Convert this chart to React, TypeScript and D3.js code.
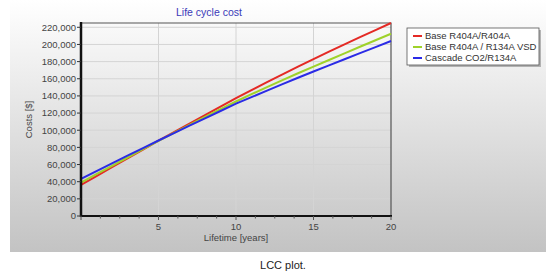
import React, { useEffect, useRef } from 'react';
import * as d3 from 'd3';

const years = d3.range(0, 21);
const seriesNames = ['Base R404A/R404A', 'Base R404A / R134A VSD', 'Cascade CO2/R134A'];
const seriesColors = ['#e42a25', '#9fd22a', '#2b2be6'];
const baseR404A = [36300, 46600, 56900, 67200, 77500, 87800, 97800, 107800, 117700, 127600, 137500, 146800, 156000, 165100, 174100, 183000, 191600, 200100, 208500, 216800, 225000];
const baseVSD = [39000, 48800, 58500, 68200, 77900, 87500, 96900, 106200, 115400, 124500, 133500, 142000, 150300, 158500, 166400, 174200, 181900, 189600, 197300, 204900, 212500];
const cascade = [43300, 52300, 61300, 70300, 79200, 88000, 96700, 105300, 113800, 122400, 131000, 138600, 146200, 153800, 161200, 168500, 175600, 182700, 189800, 196900, 204000];
const yTicks = d3.range(0, 220001, 20000);
const xTicks = [5, 10, 15, 20];

export default function App() {
  const svgRef = useRef<SVGSVGElement>(null);

  useEffect(() => {
    if (!svgRef.current) return;
    const svg = d3.select(svgRef.current);
    svg.selectAll('*').remove();

    const width = 546;
    const height = 273;
    const plot = { left: 81, right: 391, top: 23, bottom: 216 };

    svg.attr('width', width).attr('height', height);

    // background gradient panel
    const defs = svg.append('defs');
    const grad = defs.append('linearGradient').attr('id', 'bg').attr('x1', 0).attr('y1', 0).attr('x2', 0).attr('y2', 1);
    grad.append('stop').attr('offset', '0%').attr('stop-color', '#ffffff');
    grad.append('stop').attr('offset', '100%').attr('stop-color', '#c3c3c3');

    svg.append('rect').attr('width', width).attr('height', height).attr('fill', '#fff');
    svg.append('rect')
      .attr('x', 10).attr('y', 0).attr('width', width - 10).attr('height', 252)
      .attr('fill', 'url(#bg)');

    const x = d3.scaleLinear().domain([0, 20]).range([plot.left, plot.right]);
    const y = d3.scaleLinear().domain([0, 225000]).range([plot.bottom, plot.top]);

    const font = 'Liberation Sans, Arial, sans-serif';
    const fs = '9.5px';

    // grid
    const grid = svg.append('g');
    grid.selectAll('.hg').data(yTicks.filter(t => t > 0)).enter().append('line')
      .attr('x1', plot.left).attr('x2', plot.right)
      .attr('y1', d => y(d)).attr('y2', d => y(d))
      .attr('stroke', '#d4d4d4').attr('stroke-width', 1);
    grid.selectAll('.vg').data([5, 10, 15]).enter().append('line')
      .attr('x1', d => x(d)).attr('x2', d => x(d))
      .attr('y1', plot.top).attr('y2', plot.bottom)
      .attr('stroke', '#d4d4d4').attr('stroke-width', 1);

    // top/right border
    svg.append('path')
      .attr('d', `M${plot.left},${plot.top}H${plot.right}V${plot.bottom}`)
      .attr('fill', 'none').attr('stroke', '#555').attr('stroke-width', 1.2);

    // lines
    const line = d3.line<number>()
      .x((_, i) => x(years[i]))
      .y(d => y(d));
    [baseR404A, baseVSD, cascade].forEach((s, i) => {
      svg.append('path')
        .attr('d', line(s))
        .attr('fill', 'none')
        .attr('stroke', seriesColors[i])
        .attr('stroke-width', 2);
    });

    // axes
    svg.append('line')
      .attr('x1', plot.left).attr('x2', plot.left)
      .attr('y1', plot.top - 1).attr('y2', plot.bottom + 1)
      .attr('stroke', '#111').attr('stroke-width', 2.5);
    svg.append('line')
      .attr('x1', plot.left).attr('x2', plot.right + 1)
      .attr('y1', plot.bottom).attr('y2', plot.bottom)
      .attr('stroke', '#111').attr('stroke-width', 1.8);

    // y ticks
    const yAxis = svg.append('g');
    yAxis.selectAll('line').data(yTicks).enter().append('line')
      .attr('x1', plot.left - 4).attr('x2', plot.left)
      .attr('y1', d => y(d)).attr('y2', d => y(d))
      .attr('stroke', '#333');
    yAxis.selectAll('text').data(yTicks).enter().append('text')
      .attr('x', plot.left - 5).attr('y', d => y(d) + 3.3)
      .attr('text-anchor', 'end')
      .style('font-family', font).style('font-size', fs).attr('fill', '#444')
      .text(d => d3.format(',')(d));

    // x ticks (minor every 1.25 years)
    const minor = d3.range(0, 20.01, 1.25);
    svg.selectAll('.xm').data(minor).enter().append('line')
      .attr('x1', d => x(d)).attr('x2', d => x(d))
      .attr('y1', plot.bottom).attr('y2', d => plot.bottom + (d % 5 === 0 ? 4 : 2.5))
      .attr('stroke', '#555');
    svg.selectAll('.xl').data(xTicks).enter().append('text')
      .attr('x', d => x(d)).attr('y', plot.bottom + 14)
      .attr('text-anchor', 'middle')
      .style('font-family', font).style('font-size', fs).attr('fill', '#444')
      .text(d => d);

    // titles
    svg.append('text')
      .attr('x', 209).attr('y', 16)
      .attr('text-anchor', 'middle')
      .style('font-family', font).style('font-size', '10.5px').attr('fill', '#3a3ab8')
      .text('Life cycle cost');
    svg.append('text')
      .attr('x', 236).attr('y', 241)
      .attr('text-anchor', 'middle')
      .style('font-family', font).style('font-size', fs).attr('fill', '#444')
      .text('Lifetime [years]');
    svg.append('text')
      .attr('transform', `translate(32,${(plot.top + plot.bottom) / 2}) rotate(-90)`)
      .attr('text-anchor', 'middle')
      .style('font-family', font).style('font-size', fs).attr('fill', '#444')
      .text('Costs [$]');

    // legend
    const lg = svg.append('g').attr('transform', 'translate(407,28)');
    lg.append('rect').attr('x', 2).attr('y', 2).attr('width', 132).attr('height', 37).attr('fill', '#888').attr('opacity', 0.6);
    lg.append('rect').attr('width', 132).attr('height', 37).attr('fill', '#fff').attr('stroke', '#555').attr('stroke-width', 0.8);
    seriesNames.forEach((name, i) => {
      const yy = 8 + i * 11;
      lg.append('line').attr('x1', 6).attr('x2', 15).attr('y1', yy).attr('y2', yy)
        .attr('stroke', seriesColors[i]).attr('stroke-width', 2);
      lg.append('text').attr('x', 18).attr('y', yy + 3.3)
        .style('font-family', font).style('font-size', fs).attr('fill', '#333')
        .text(name);
    });

    // caption
    svg.append('text')
      .attr('x', 283).attr('y', 269)
      .attr('text-anchor', 'middle')
      .style('font-family', font).style('font-size', '11px').attr('fill', '#222')
      .text('LCC plot.');
  }, []);

  return (
    <div style={{ position: 'absolute', left: 0, top: 0 }}>
      <svg ref={svgRef} style={{ display: 'block' }}></svg>
    </div>
  );
}
